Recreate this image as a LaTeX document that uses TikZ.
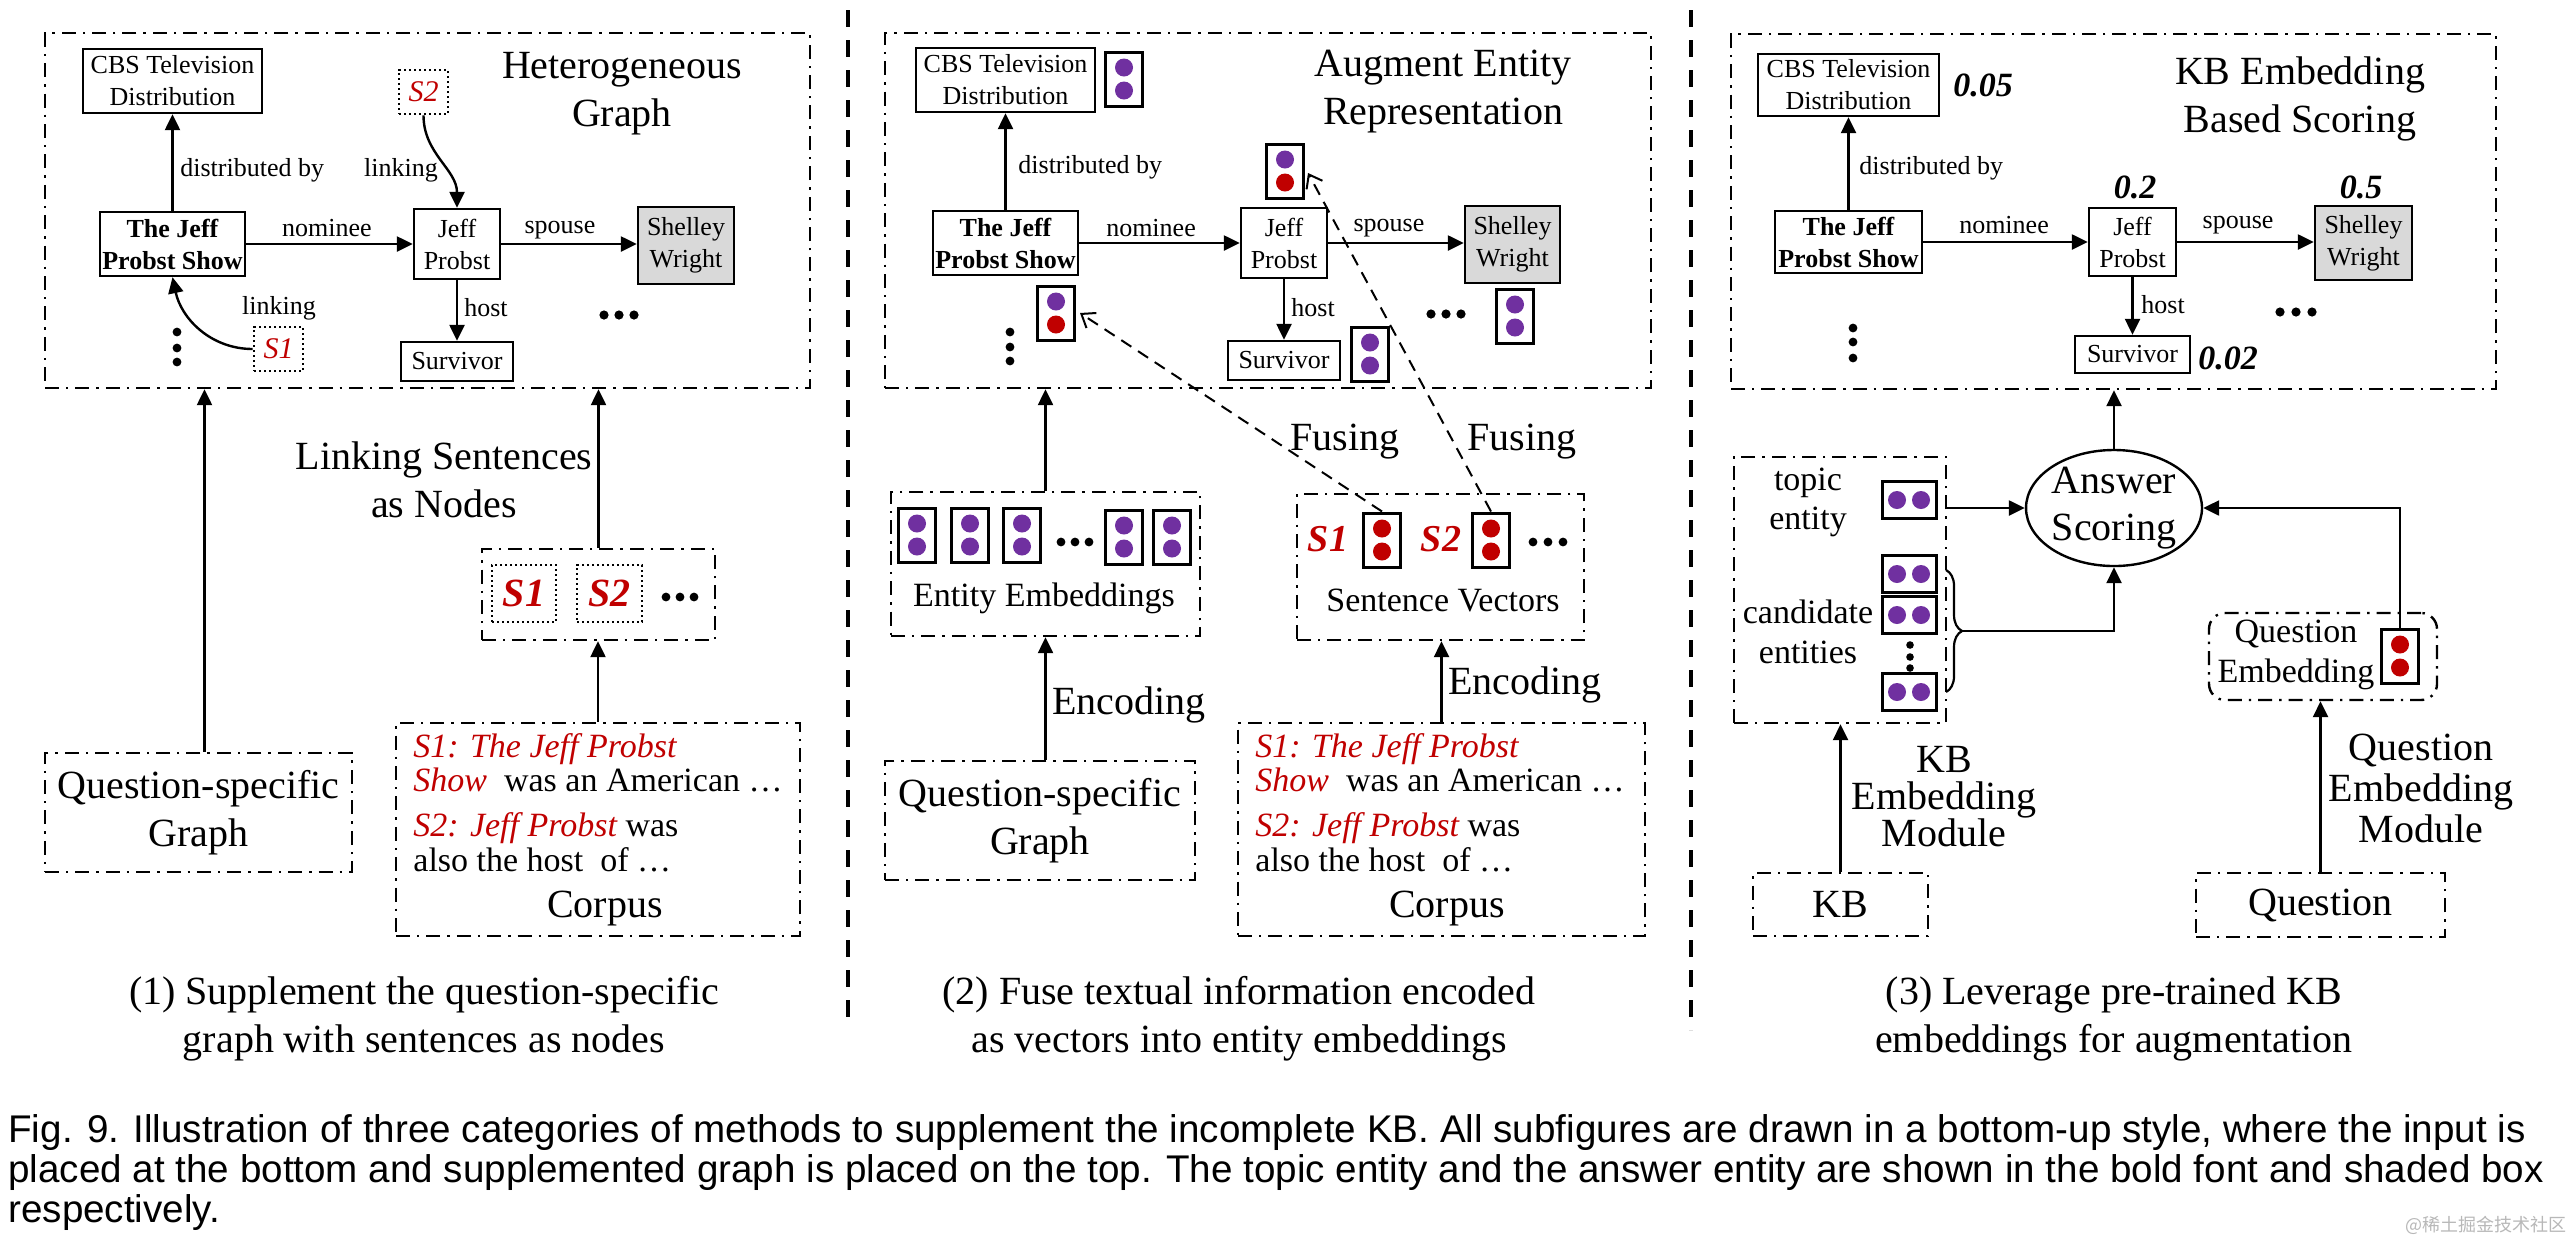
\documentclass[tikz,border=0pt]{standalone}
\usepackage{fontspec}
\setmainfont{Liberation Serif}
\newfontfamily\capfont{Liberation Sans}
\newfontfamily\cjkfont{Noto Sans CJK SC}
\usetikzlibrary{arrows.meta,shapes.geometric,decorations.pathreplacing,calc}
\definecolor{pp}{HTML}{7030A0}
\definecolor{rd}{HTML}{C00000}
\definecolor{gy}{HTML}{D9D9D9}
\newcommand\fnd{\fontsize{13}{16}\selectfont}
\newcommand\fttl{\fontsize{20}{24}\selectfont}
\newcommand\fmd{\fontsize{17}{20}\selectfont}
\newcommand\bx[7][]{\node[#1, minimum width={(#5-#3)*0.5pt}, minimum height={(#6-#4)*0.5pt}] (#2) at ({(#3+#5)/2},{(#4+#6)/2}) {#7};}
\newcommand\vvec[5]{\node[vecbox] (#1) at (#2,#3) {};
 \fill[#4] ({#2},{#3-11.5}) circle[radius=4.5pt];
 \fill[#5] ({#2},{#3+11.5}) circle[radius=4.5pt];}
\newcommand\hvec[3]{\node[hvecbox] (#1) at (#2,#3) {};
 \fill[pp] ({#2-12},{#3}) circle[radius=4.5pt];
 \fill[pp] ({#2+12},{#3}) circle[radius=4.5pt];}
\tikzset{
 ent/.style={draw, line width=1.2pt, inner sep=0pt, align=center, font=\fnd},
 ddash/.style={draw, line width=1.2pt, dash pattern=on 7pt off 3.5pt on 1.2pt off 3.5pt, inner sep=0pt, align=center},
 dotbox/.style={draw, line width=1.3pt, dash pattern=on 1.2pt off 1.3pt, inner sep=0pt, align=center},
 arr/.style={line width=1.2pt, -{Triangle[length=8pt,width=7.5pt]}},
 lbl/.style={inner sep=0pt, font=\fnd},
 ttl/.style={inner sep=0pt, align=center, font=\fttl},
 vecbox/.style={draw, line width=1.5pt, inner sep=0pt, minimum width=18.5pt, minimum height=27pt},
 hvecbox/.style={draw, line width=1.5pt, inner sep=0pt, minimum width=27pt, minimum height=18.5pt},
 fus/.style={line width=1pt, dash pattern=on 6pt off 4pt, -{Straight Barb[length=6pt,width=9pt]}},
 sepline/.style={line width=2pt, dash pattern=on 8.5pt off 6.5pt},
 corp/.style={inner sep=0pt, anchor=base west, font=\fmd},
 score/.style={inner sep=0pt, font=\fontsize{17}{20}\selectfont\bfseries\itshape},
 figcap/.style={inner sep=0pt, anchor=base west, font=\capfont\fontsize{19.3}{22}\selectfont},
}
\begin{document}
\begin{tikzpicture}[x=0.5pt,y=-0.5pt]
\fill[white] (0,0) rectangle (2574,1244);
\useasboundingbox (0,0) rectangle (2574,1244);

% ================= Panel 1 =================
\bx[ddash]{pA}{45}{33}{810}{388}{}
\bx[ent]{cbsA}{83}{49}{262}{113}{CBS Television\\Distribution}
\bx[dotbox, text=rd, font=\fontsize{15}{15}\selectfont\itshape]{s2A}{399}{70}{448}{114}{S2}
\bx[ent, font=\fnd\bfseries]{tjpsA}{100}{212}{245}{276}{The Jeff\\Probst Show}
\bx[ent]{jeffA}{414}{209}{500}{279}{Jeff\\Probst}
\bx[ent, fill=gy]{shelA}{638}{207}{734}{284}{Shelley\\Wright}
\bx[ent]{survA}{401}{342}{513}{381}{Survivor}
\bx[dotbox, text=rd, font=\fontsize{15}{15}\selectfont\itshape]{s1A}{254}{327}{303}{371}{S1}
\node[ttl] (tA) at (622,94) {Heterogeneous\\Graph};

\draw[arr] (tjpsA) -- (cbsA);
\draw[arr] (tjpsA.east) -- (tjpsA.east -| jeffA.west);
\draw[arr] (jeffA.east) -- (jeffA.east -| shelA.west);
\draw[arr] (jeffA) -- (survA);
\draw[arr] (s2A.south) to[out=-90,in=90] (jeffA.north);
\draw[arr] (s1A.west) to[out=180,in=-78] (tjpsA.south);

\node[lbl, anchor=west] (ldA) at (180,170) {distributed by};
\node[lbl] (lkA1) at (401,170) {linking};
\node[lbl] (lnA) at (327,228) {nominee};
\node[lbl] (lsA) at (560,230) {spouse};
\node[lbl] (lhA) at (486,308) {host};
\node[lbl] (lkA2) at (279,308) {linking};
\foreach \yy in {332,348,362} \fill (177,\yy) circle[radius=2.2pt];
\foreach \xx in {604,619,634} \fill (\xx,315) circle[radius=2.3pt];

\bx[ddash]{sbA}{482}{549}{715}{640}{}
\bx[dotbox, text=rd, font=\fttl\bfseries\itshape]{s1B}{492}{565}{556}{622}{S1}
\bx[dotbox, text=rd, font=\fttl\bfseries\itshape]{s2B}{577}{565}{642}{622}{S2}
\foreach \xx in {666,680,694} \fill (\xx,597) circle[radius=2.2pt];
\node[ttl] (lsnA) at (444,480) {Linking Sentences\\as Nodes};

\bx[ddash, font=\fttl]{qsgA}{45}{753}{352}{872}{Question-specific\\Graph}
\bx[ddash]{corA}{396}{723}{800}{936}{}
\node[corp] (cA1) at (413,757) {\textcolor{rd}{\itshape S1: The Jeff Probst}};
\node[corp] (cA2) at (413,791) {\textcolor{rd}{\itshape Show}\ \ was an American …};
\node[corp] (cA3) at (413,836) {\textcolor{rd}{\itshape S2: Jeff Probst} was};
\node[corp] (cA4) at (413,871) {also the host\ \ of …};
\node[inner sep=0pt, anchor=base, font=\fttl] (cA5) at (605,917) {Corpus};

\draw[arr] ([xshift=3pt]qsgA.north) -- ([xshift=3pt]qsgA.north |- pA.south);
\draw[arr] (sbA.north) -- (sbA.north |- pA.south);
\draw[arr] (corA.north) -- (corA.north |- sbA.south);

% ================= Panel 2 =================
\bx[ddash]{pB}{885}{33}{1651}{388}{}
\bx[ent]{cbsB}{916}{48}{1095}{112}{CBS Television\\Distribution}
\bx[ent, font=\fnd\bfseries]{tjpsB}{933}{211}{1078}{275}{The Jeff\\Probst Show}
\bx[ent]{jeffB}{1241}{208}{1327}{278}{Jeff\\Probst}
\bx[ent, fill=gy]{shelB}{1465}{206}{1560}{283}{Shelley\\Wright}
\bx[ent]{survB}{1228}{341}{1340}{380}{Survivor}
\node[ttl] (tB) at (1443,92) {Augment Entity\\Representation};

\vvec{vcbs}{1124}{79}{pp}{pp}
\vvec{vjeff}{1285}{171}{pp}{rd}
\vvec{vtjps}{1056}{313}{pp}{rd}
\vvec{vsurv}{1370}{354}{pp}{pp}
\vvec{vshel}{1515}{316}{pp}{pp}

\draw[arr] (tjpsB) -- (cbsB);
\draw[arr] (tjpsB.east) -- (tjpsB.east -| jeffB.west);
\draw[arr] (jeffB.east) -- (jeffB.east -| shelB.west);
\draw[arr] (jeffB) -- (survB);

\node[lbl, anchor=west] (ldB) at (1018,167) {distributed by};
\node[lbl] (lnB) at (1151,228) {nominee};
\node[lbl] (lsB) at (1389,228) {spouse};
\node[lbl, anchor=west] (lhB) at (1291,308) {host};
\foreach \yy in {332,347,361} \fill (1010,\yy) circle[radius=2.2pt];
\foreach \xx in {1431,1446,1461} \fill (\xx,314) circle[radius=2.3pt];

\bx[ddash]{eeB}{891}{492}{1200}{636}{}
\vvec{e1}{917}{535}{pp}{pp}
\vvec{e2}{970}{535}{pp}{pp}
\vvec{e3}{1022}{535}{pp}{pp}
\vvec{e4}{1124}{537}{pp}{pp}
\vvec{e5}{1172}{537}{pp}{pp}
\foreach \xx in {1061,1075,1089} \fill (\xx,542) circle[radius=2.2pt];
\node[inner sep=0pt, font=\fmd] (eeL) at (1044,598) {Entity Embeddings};

\bx[ddash]{svB}{1297}{494}{1584}{640}{}
\node[inner sep=0pt, text=rd, font=\fontsize{19}{20}\selectfont\bfseries\itshape] (svt1) at (1328,539) {S1};
\vvec{sv1}{1382}{540}{rd}{rd}
\node[inner sep=0pt, text=rd, font=\fontsize{19}{20}\selectfont\bfseries\itshape] (svt2) at (1441,539) {S2};
\vvec{sv2}{1491}{540}{rd}{rd}
\foreach \xx in {1533,1548,1563} \fill (\xx,542) circle[radius=2.2pt];
\node[inner sep=0pt, font=\fmd] (svL) at (1443,600) {Sentence Vectors};

\draw[fus] (sv1.north) -- ([xshift=2pt]vtjps.east);
\draw[fus] (sv2.north) -- ([xshift=1.5pt,yshift=-1pt]vjeff.east);
\node[ttl] (fu1) at (1345,442) {Fusing};
\node[ttl] (fu2) at (1522,442) {Fusing};

\bx[ddash, font=\fttl]{qsgB}{885}{761}{1195}{880}{Question-specific\\Graph}
\bx[ddash]{corB}{1238}{723}{1645}{936}{}
\node[corp] (cB1) at (1255,757) {\textcolor{rd}{\itshape S1: The Jeff Probst}};
\node[corp] (cB2) at (1255,791) {\textcolor{rd}{\itshape Show}\ \ was an American …};
\node[corp] (cB3) at (1255,836) {\textcolor{rd}{\itshape S2: Jeff Probst} was};
\node[corp] (cB4) at (1255,871) {also the host\ \ of …};
\node[inner sep=0pt, anchor=base, font=\fttl] (cB5) at (1447,917) {Corpus};

\draw[arr] (eeB.north) -- (eeB.north |- pB.south);
\draw[arr] (eeB.south |- qsgB.north) -- (eeB.south);
\draw[arr] (corB.north) -- (corB.north |- svB.south);
\node[ttl, anchor=west] (enc1) at (1052,705) {Encoding};
\node[ttl, anchor=west] (enc2) at (1448,685) {Encoding};

% ================= Panel 3 =================
\bx[ddash]{pC}{1731}{34}{2496}{389}{}
\bx[ent]{cbsC}{1758}{54}{1939}{116}{CBS Television\\Distribution}
\bx[ent, font=\fnd\bfseries]{tjpsC}{1775}{211}{1922}{273}{The Jeff\\Probst Show}
\bx[ent]{jeffC}{2089}{208}{2176}{276}{Jeff\\Probst}
\bx[ent, fill=gy]{shelC}{2315}{206}{2412}{280}{Shelley\\Wright}
\bx[ent]{survC}{2075}{336}{2190}{373}{Survivor}
\node[ttl] (tC) at (2300,99) {KB Embedding\\Based Scoring};
\node[score] (sc1) at (1983,85) {0.05};
\node[score] (sc2) at (2135,187) {0.2};
\node[score] (sc3) at (2361,187) {0.5};
\node[score] (sc4) at (2228,358) {0.02};

\draw[arr] (tjpsC) -- (cbsC);
\draw[arr] (tjpsC.east) -- (tjpsC.east -| jeffC.west);
\draw[arr] (jeffC.east) -- (jeffC.east -| shelC.west);
\draw[arr] (jeffC) -- (survC);
\node[lbl, anchor=west] (ldC) at (1859,168) {distributed by};
\node[lbl] (lnC) at (2004,225) {nominee};
\node[lbl] (lsC) at (2238,225) {spouse};
\node[lbl, anchor=west] (lhC) at (2141,305) {host};
\foreach \yy in {328,342,358} \fill (1853,\yy) circle[radius=2.2pt];
\foreach \xx in {2280,2296,2312} \fill (\xx,312) circle[radius=2.3pt];

\node[draw, ellipse, line width=1.2pt, minimum width=87pt, minimum height=54pt, inner sep=0pt, align=center, font=\fontsize{20}{23.5}\selectfont] (AS) at (2114,508) {Answer\\Scoring};
\draw[arr] (AS.north) -- (AS.north |- pC.south);

\bx[ddash]{kbl}{1734}{457}{1946}{723}{}
\node[inner sep=0pt, align=center, font=\fontsize{17}{19.5}\selectfont] (te) at (1808,502) {topic\\entity};
\node[inner sep=0pt, align=center, font=\fontsize{17}{20}\selectfont] (ce) at (1808,632) {candidate\\entities};
\hvec{ht}{1909}{500}
\hvec{hc1}{1909}{574}
\hvec{hc2}{1909}{615}
\hvec{hc3}{1909}{692}
\foreach \yy in {645,657,668} \fill (1910,\yy) circle[radius=1.9pt];
\draw[arr] (kbl.east |- AS.west) -- (AS.west);
\draw[line width=1.1pt, decorate, decoration={brace, amplitude=8pt}] (1946,570) -- (1946,692);
\coordinate (btip) at (1962,631);
\draw[arr] (btip) -| (AS.south);

\node[draw, line width=1.2pt, dash pattern=on 7pt off 3.5pt on 1.2pt off 3.5pt, rounded corners=8pt, minimum width=114pt, minimum height=43.5pt, inner sep=0pt] (qeb) at (2323,656.5) {};
\node[inner sep=0pt, align=center, font=\fontsize{17}{20}\selectfont] (qel) at (2296,655) {Question\\Embedding};
\vvec{qev}{2400}{656}{rd}{rd}
\draw[arr] (qev.north) |- (AS.east);

\bx[ddash, font=\fttl]{kbB}{1753}{873}{1928}{936}{KB}
\bx[ddash, font=\fttl]{qB}{2196}{873}{2445}{937}{Question}
\draw[arr] (kbB.north) -- (kbB.north |- kbl.south);
\draw[arr] (qB.north) -- (qB.north |- qeb.south);
\node[inner sep=0pt, align=center, font=\fontsize{20}{18.5}\selectfont] (kbm) at (1944,797) {KB\\Embedding\\Module};
\node[inner sep=0pt, align=center, font=\fontsize{20}{20.5}\selectfont] (qem) at (2421,788) {Question\\Embedding\\Module};

% ================= separators & captions =================
\coordinate (sa1) at (848,10); \coordinate (sa2) at (848,1022);
\coordinate (sb1) at (1691,10); \coordinate (sb2) at (1691,1030);
\draw[sepline] (sa1) -- (sa2);
\draw[sepline] (sb1) -- (sb2);

\node[ttl] (cap1) at (424,1019) {(1) Supplement the question-specific\\graph with sentences as nodes};
\node[ttl] (cap2) at (1239,1019) {(2) Fuse textual information encoded\\as vectors into entity embeddings};
\node[ttl] (cap3) at (2114,1019) {(3) Leverage pre-trained KB\\embeddings for augmentation};

\node[figcap] (fg1) at (8,1142) {Fig. 9. Illustration of three categories of methods to supplement the incomplete KB. All subfigures are drawn in a bottom-up style, where the input is};
\node[figcap] (fg2) at (8,1182) {placed at the bottom and supplemented graph is placed on the top. The topic entity and the answer entity are shown in the bold font and shaded box};
\node[figcap] (fg3) at (8,1222) {respectively.};
\node[inner sep=0pt, anchor=east, text=black!28, font=\cjkfont\fontsize{9}{10}\selectfont] (wm) at (2567,1225) {@稀土掘金技术社区};
\end{tikzpicture}
\end{document}
